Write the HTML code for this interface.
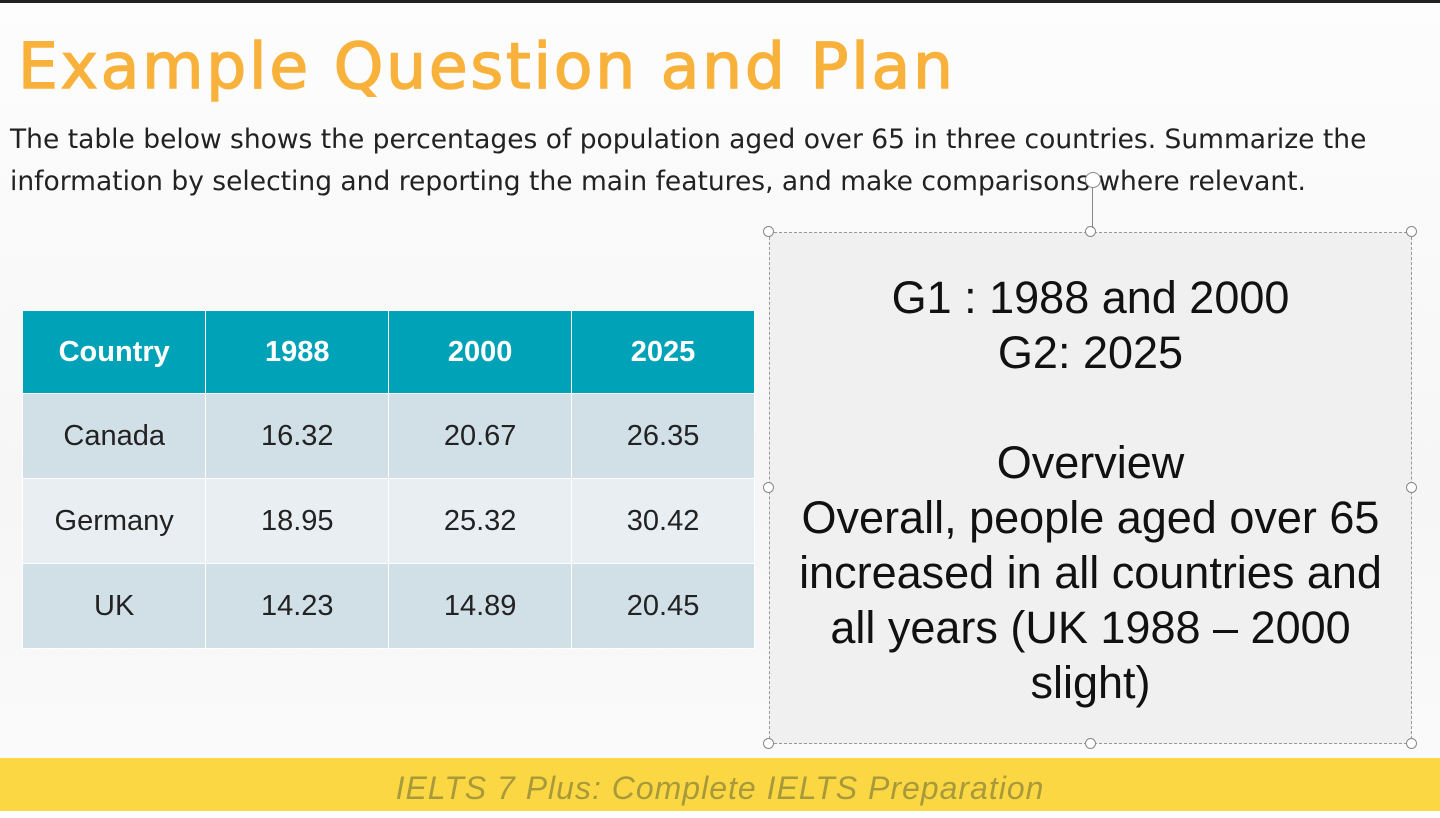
<!DOCTYPE html>
<html><head><meta charset="utf-8"><style>
body{margin:0;width:1440px;height:811px;overflow:hidden;background:linear-gradient(180deg,#fdfdfd,#f6f6f6 60%,#fbfbfb);font-family:"Liberation Sans",sans-serif;position:relative}
.topline{position:absolute;left:0;top:0;width:1440px;height:3px;background:#222}
h1{position:absolute;left:18px;top:30px;margin:0;font-weight:normal;font-size:63px;letter-spacing:2.8px;color:#f8b23c;-webkit-text-stroke:1.5px #f8b23c;font-family:"DejaVu Sans","Liberation Sans",sans-serif}
.q{position:absolute;left:10px;top:119px;width:1430px;font-size:26.5px;line-height:42px;color:#222;font-family:"DejaVu Sans","Liberation Sans",sans-serif;white-space:nowrap}
table{position:absolute;left:22px;top:310px;border-collapse:collapse;width:733px}
td,th{width:183px;text-align:center;font-size:29px;color:#222;border:1.5px solid #fff;padding:0}
th{height:82px;background:#00a2b8;color:#fff;font-weight:bold}
tr.a td{background:#d1e0e7;height:84px}
tr.b td{background:#e8eef2;height:84px}
.box{position:absolute;left:769px;top:232px;width:643px;height:512px;background:#f0f0f0;border:1px dashed #999;box-sizing:border-box;text-align:center;font-size:45px;color:#111;line-height:55px;white-space:nowrap}
.h{position:absolute;width:11px;height:11px;border:1.5px solid #888;border-radius:50%;background:#fff;box-sizing:border-box}
.foot{position:absolute;left:0;top:758px;width:1440px;height:53px;background:#fbd744;text-align:center;font-size:32px;line-height:60px;color:#a89a3a;font-style:italic;letter-spacing:1px}
</style></head><body>
<div class="topline"></div>
<h1>Example Question and Plan</h1>
<div class="q">The table below shows the percentages of population aged over 65 in three countries. Summarize the<br>information by selecting and reporting the main features, and make comparisons where relevant.</div>
<table>
<tr><th>Country</th><th>1988</th><th>2000</th><th>2025</th></tr>
<tr class="a"><td>Canada</td><td>16.32</td><td>20.67</td><td>26.35</td></tr>
<tr class="b"><td>Germany</td><td>18.95</td><td>25.32</td><td>30.42</td></tr>
<tr class="a"><td>UK</td><td>14.23</td><td>14.89</td><td>20.45</td></tr>
</table>
<div class="box"><div style="padding-top:37px">G1 : 1988 and 2000<br>G2: 2025<br><br>Overview<br>Overall, people aged over 65<br>increased in all countries and<br>all years (UK 1988 – 2000<br>slight)</div></div>
<div class="h" style="left:763px;top:226px"></div>
<div class="h" style="left:1085px;top:226px"></div>
<div class="h" style="left:1406px;top:226px"></div>
<div class="h" style="left:763px;top:482px"></div>
<div class="h" style="left:1406px;top:482px"></div>
<div class="h" style="left:763px;top:738px"></div>
<div class="h" style="left:1085px;top:738px"></div>
<div class="h" style="left:1406px;top:738px"></div>
<div class="h" style="left:1085px;top:172px;width:16px;height:16px"></div>
<div style="position:absolute;left:1092px;top:188px;width:1px;height:40px;background:#888"></div>
<div class="foot">IELTS 7 Plus: Complete IELTS Preparation</div>
</body></html>
